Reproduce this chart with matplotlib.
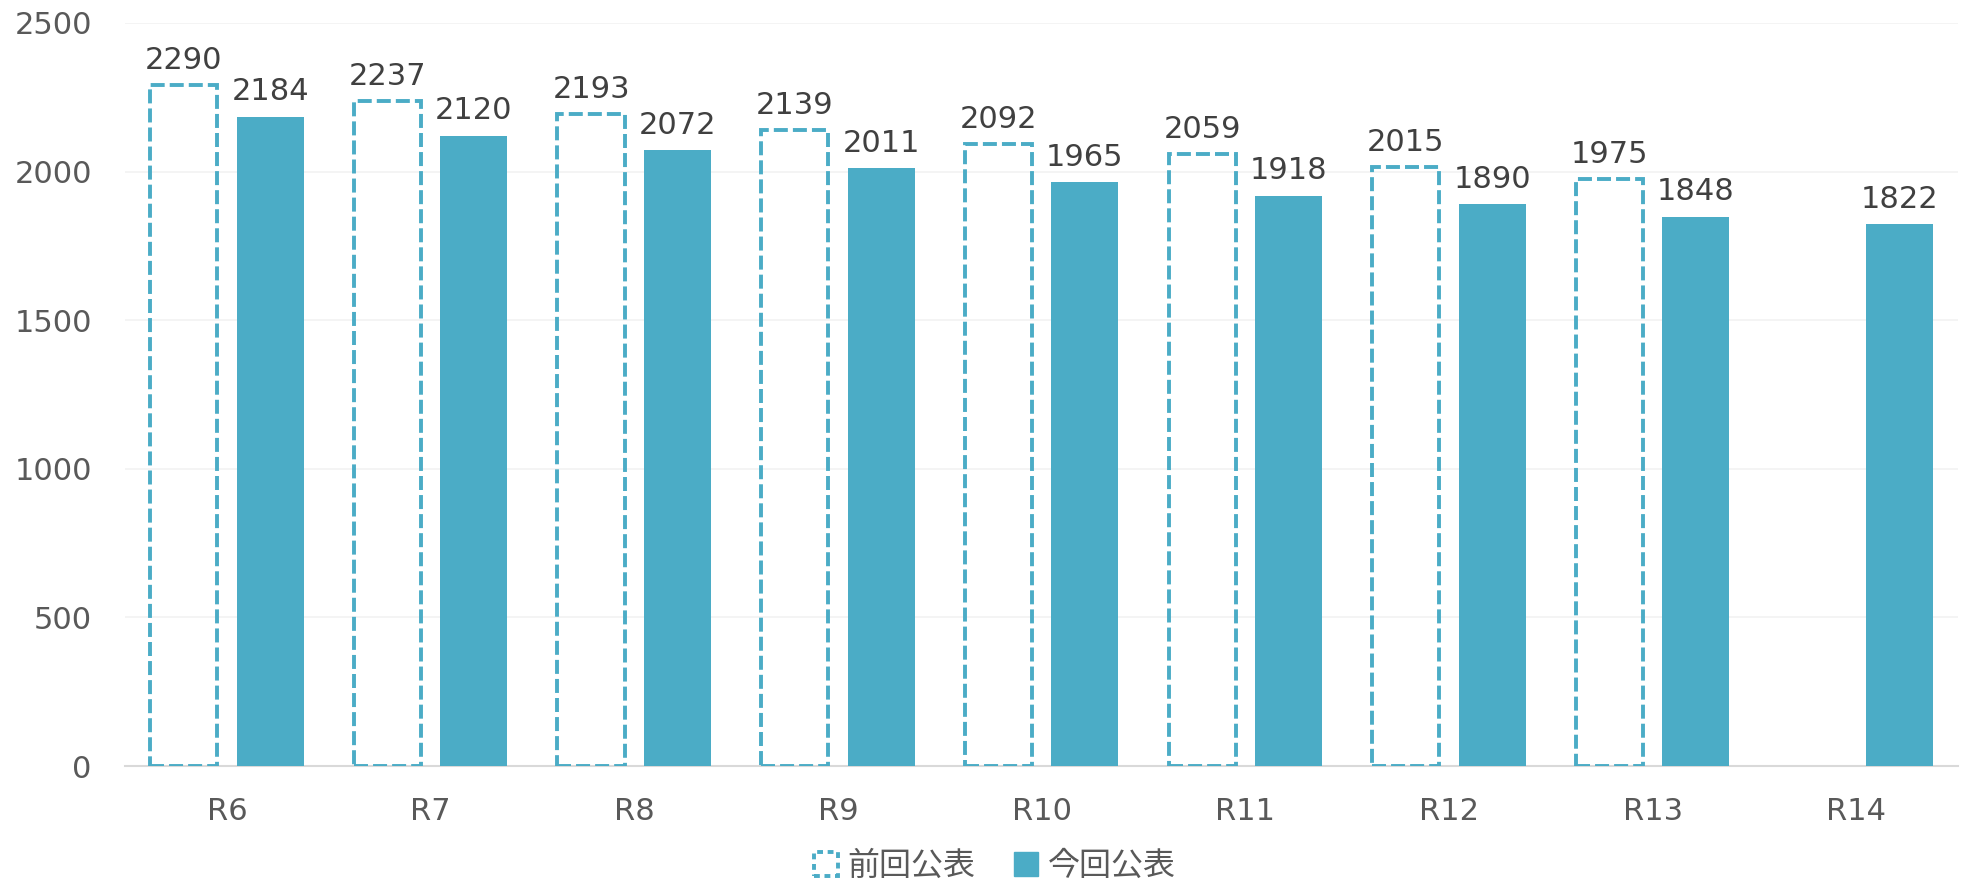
import numpy as np
import matplotlib
matplotlib.use('Agg')
import matplotlib.pyplot as plt
from matplotlib.patches import Patch

plt.rcParams['font.family'] = ['DejaVu Sans', 'Noto Sans CJK JP']

# データ
categories = ['R6', 'R7', 'R8', 'R9', 'R10', 'R11', 'R12', 'R13', 'R14']
prev_values = [2290, 2237, 2193, 2139, 2092, 2059, 2015, 1975, None]
curr_values = [2184, 2120, 2072, 2011, 1965, 1918, 1890, 1848, 1822]
y_ticks = [0, 500, 1000, 1500, 2000, 2500]

color = '#4BACC6'
x = np.arange(len(categories))
w = 0.33
off = 0.212

fig = plt.figure(figsize=(19.7, 8.8), dpi=100)
ax = fig.add_axes([0.0635, 0.1295, 0.9305, 0.8445])

# 前回公表（点線の枠）
for i, v in enumerate(prev_values):
    if v is None:
        continue
    ax.bar(x[i] - off, v, width=w, facecolor='none', edgecolor=color,
           linewidth=2.8, linestyle=(0, (3.6, 1.3)), zorder=3)
    ax.text(x[i] - off, v + 35, str(v), ha='center', va='bottom',
            fontsize=22, color='#404040')

# 今回公表
ax.bar(x + off, curr_values, width=w, color=color, zorder=3)
for i, v in enumerate(curr_values):
    ax.text(x[i] + off, v + 35, str(v), ha='center', va='bottom',
            fontsize=22, color='#404040')

ax.set_xlim(-0.5, len(categories) - 0.5)
ax.set_ylim(0, 2500)
ax.set_yticks(y_ticks)
ax.set_xticks(x)
ax.set_xticklabels(categories)
ax.tick_params(axis='both', length=0, labelsize=22, colors='#595959')
ax.tick_params(axis='y', pad=24)
ax.tick_params(axis='x', pad=22)
ax.grid(axis='y', color='#F2F2F2', linewidth=1.2, zorder=0)
ax.set_axisbelow(True)
for s in ['top', 'right', 'left']:
    ax.spines[s].set_visible(False)
ax.spines['bottom'].set_color('#D9D9D9')
ax.spines['bottom'].set_linewidth(1.5)

handles = [
    Patch(facecolor='none', edgecolor=color, linewidth=2.8, linestyle=(0, (1.5, 1.2)), label='前回公表'),
    Patch(facecolor=color, edgecolor=color, label='今回公表'),
]
fig.legend(handles=handles, loc='lower center', bbox_to_anchor=(0.505, -0.035), ncol=2,
           frameon=False, labelcolor='#595959',
           handlelength=0.75, handleheight=0.75, handletextpad=0.3, columnspacing=1.2,
           prop={'family': ['Noto Sans CJK JP'], 'size': 23})

fig.savefig('out.png', dpi=100)
